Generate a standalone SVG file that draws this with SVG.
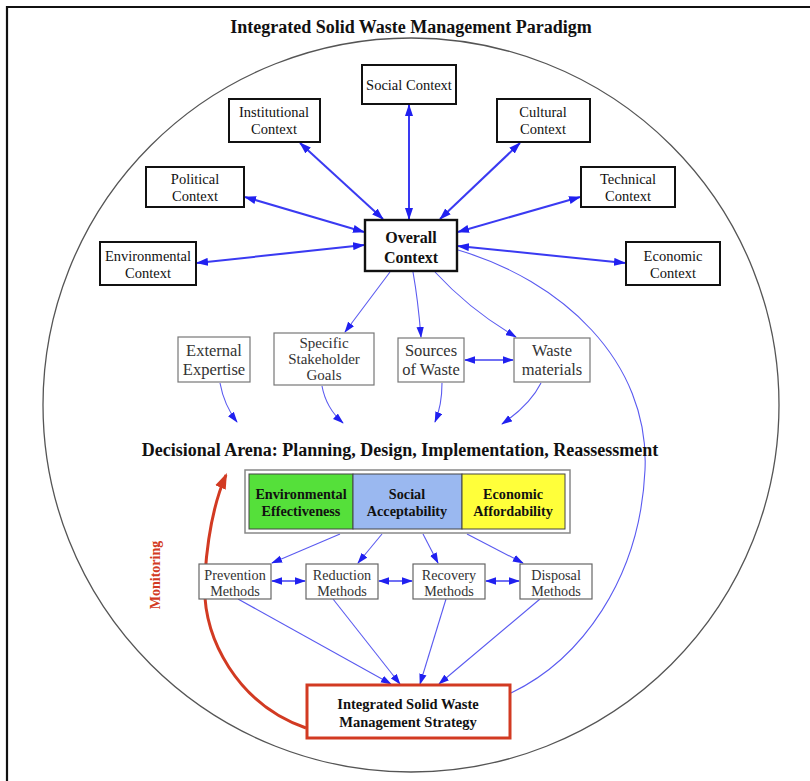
<svg xmlns="http://www.w3.org/2000/svg" width="810" height="781" viewBox="0 0 810 781">
<defs>
<style>
text{font-family:"Liberation Serif","Times New Roman",serif;fill:#111;text-anchor:middle}
.ctx rect{fill:#fff;stroke:#111;stroke-width:2}
.ctx text{font-size:14.5px}
.low rect{fill:#fff;stroke:#777;stroke-width:1.2}
.low text{font-size:16.5px;fill:#333}
.meth rect{fill:#fff;stroke:#666;stroke-width:1.2}
.meth text{font-size:14.2px;fill:#333}
.crit{font-weight:bold;font-size:14.2px}
.b{font-weight:bold}
.thick{stroke:#3a3af2;stroke-width:2;fill:none}
.thin{stroke:#5a5af0;stroke-width:1.1;fill:none}
.mid{stroke:#4040f0;stroke-width:1.4;fill:none}
</style>
<marker id="ah" viewBox="0 0 12 8" refX="11" refY="4" markerWidth="12" markerHeight="8" markerUnits="userSpaceOnUse" orient="auto-start-reverse">
<path d="M0,0 L12,4 L0,8 Z" fill="#2020f0"/>
</marker>
<marker id="ahs" viewBox="0 0 12 8" refX="11" refY="4" markerWidth="11" markerHeight="8" markerUnits="userSpaceOnUse" orient="auto-start-reverse">
<path d="M0,0 L12,4 L0,8 Z" fill="#2020f0"/>
</marker>
<marker id="ahr" viewBox="0 0 14 10" refX="12" refY="5" markerWidth="16" markerHeight="12" markerUnits="userSpaceOnUse" orient="auto">
<path d="M0,0 L14,5 L0,10 Z" fill="#d23a22"/>
</marker>
</defs>
<rect width="810" height="781" fill="#fff"/>
<path d="M7,781 L7,7 L810,7" fill="none" stroke="#111" stroke-width="2.2"/>
<ellipse cx="411" cy="405" rx="368" ry="367" fill="none" stroke="#555" stroke-width="1.3"/>
<text x="411" y="33" class="b" font-size="18">Integrated Solid Waste Management Paradigm</text>

<g id="connectors">
<line class="thick" x1="409" y1="105" x2="409" y2="219" marker-start="url(#ah)" marker-end="url(#ah)"/>
<line class="thick" x1="300" y1="143" x2="383" y2="219" marker-start="url(#ah)" marker-end="url(#ah)"/>
<line class="thick" x1="520" y1="143" x2="440" y2="219" marker-start="url(#ah)" marker-end="url(#ah)"/>
<line class="thick" x1="245" y1="197" x2="364" y2="232" marker-start="url(#ah)" marker-end="url(#ah)"/>
<line class="thick" x1="580" y1="197" x2="458" y2="232" marker-start="url(#ah)" marker-end="url(#ah)"/>
<line class="thick" x1="197" y1="263" x2="364" y2="245" marker-start="url(#ah)" marker-end="url(#ah)"/>
<line class="thick" x1="625" y1="263" x2="458" y2="246" marker-start="url(#ah)" marker-end="url(#ah)"/>
<path class="thin" d="M390,272 L345,332" marker-end="url(#ahs)"/>
<path class="thin" d="M413,272 Q418,300 421,337" marker-end="url(#ahs)"/>
<path class="thin" d="M435,272 Q470,310 516,337" marker-end="url(#ahs)"/>
<line class="mid" x1="465" y1="360" x2="513" y2="360" marker-start="url(#ahs)" marker-end="url(#ahs)"/>
<path class="thin" d="M220,383 Q224,405 237,422" marker-end="url(#ahs)"/>
<path class="thin" d="M322,386 Q326,408 343,423" marker-end="url(#ahs)"/>
<path class="thin" d="M442,383 Q442,405 435,422" marker-end="url(#ahs)"/>
<path class="thin" d="M541,383 Q530,405 502,424" marker-end="url(#ahs)"/>
<path class="thin" d="M458,250 C560,280 650,360 645,470 C640,580 580,660 511,693"/>
<path class="thin" d="M340,534 L272,563" marker-end="url(#ahs)"/>
<path class="thin" d="M382,534 L358,563" marker-end="url(#ahs)"/>
<path class="thin" d="M423,534 L438,563" marker-end="url(#ahs)"/>
<path class="thin" d="M467,534 L523,563" marker-end="url(#ahs)"/>
<line class="mid" x1="272" y1="581" x2="305" y2="581" marker-start="url(#ahs)" marker-end="url(#ahs)"/>
<line class="mid" x1="379" y1="581" x2="412" y2="581" marker-start="url(#ahs)" marker-end="url(#ahs)"/>
<line class="mid" x1="486" y1="581" x2="519" y2="581" marker-start="url(#ahs)" marker-end="url(#ahs)"/>
<path class="thin" d="M238,599 L391,684" marker-end="url(#ahs)"/>
<path class="thin" d="M333,599 L400,684" marker-end="url(#ahs)"/>
<path class="thin" d="M446,599 L420,684" marker-end="url(#ahs)"/>
<path class="thin" d="M540,599 L439,684" marker-end="url(#ahs)"/>
<path d="M306,728 C240,705 200,640 205,575 C208,530 215,500 226,475" fill="none" stroke="#d23a22" stroke-width="3" marker-end="url(#ahr)"/>
</g>

<g id="social" class="ctx"><rect x="362" y="65" width="94" height="39"/><text x="409" y="90">Social Context</text></g>
<g id="institutional" class="ctx"><rect x="229" y="99" width="91" height="43"/><text x="274" y="117">Institutional</text><text x="274" y="134">Context</text></g>
<g id="cultural" class="ctx"><rect x="497" y="99" width="93" height="43"/><text x="543" y="117">Cultural</text><text x="543" y="134">Context</text></g>
<g id="political" class="ctx"><rect x="146" y="167" width="98" height="40"/><text x="195" y="184">Political</text><text x="195" y="201">Context</text></g>
<g id="technical" class="ctx"><rect x="581" y="167" width="94" height="40"/><text x="628" y="184">Technical</text><text x="628" y="201">Context</text></g>
<g id="environmental" class="ctx"><rect x="100" y="242" width="96" height="43"/><text x="148" y="261">Environmental</text><text x="148" y="278">Context</text></g>
<g id="economic" class="ctx"><rect x="626" y="242" width="94" height="43"/><text x="673" y="261">Economic</text><text x="673" y="278">Context</text></g>
<g id="overall"><rect x="365" y="220" width="92" height="51" fill="#fff" stroke="#111" stroke-width="2.4"/><text x="411" y="243" class="b" font-size="16">Overall</text><text x="411" y="263" class="b" font-size="16">Context</text></g>

<g id="external" class="low"><rect x="178" y="337" width="72" height="45"/><text x="214" y="356">External</text><text x="214" y="375">Expertise</text></g>
<g id="stakeholder" class="low"><rect x="274" y="333" width="100" height="52"/><text x="324" y="348" style="font-size:15px">Specific</text><text x="324" y="364" style="font-size:15px">Stakeholder</text><text x="324" y="380" style="font-size:15px">Goals</text></g>
<g id="sources" class="low"><rect x="398" y="338" width="66" height="44"/><text x="431" y="356">Sources</text><text x="431" y="375">of Waste</text></g>
<g id="materials" class="low"><rect x="514" y="338" width="76" height="44"/><text x="552" y="356">Waste</text><text x="552" y="375">materials</text></g>

<text x="400" y="456" class="b" font-size="18">Decisional Arena: Planning, Design, Implementation, Reassessment</text>

<g id="criteria">
<rect x="245" y="470" width="325" height="63" fill="#fff" stroke="#888" stroke-width="1.5"/>
<rect x="249" y="474" width="104" height="55" fill="#55e03a" stroke="#444" stroke-width="1"/>
<rect x="353" y="474" width="109" height="55" fill="#9ab8f0" stroke="#444" stroke-width="1"/>
<rect x="462" y="474" width="103" height="55" fill="#ffff3a" stroke="#444" stroke-width="1"/>
<text x="301" y="499" class="crit">Environmental</text><text x="301" y="516" class="crit">Effectiveness</text>
<text x="407" y="499" class="crit">Social</text><text x="407" y="516" class="crit">Acceptability</text>
<text x="513" y="499" class="crit">Economic</text><text x="513" y="516" class="crit">Affordability</text>
</g>

<g id="prevention" class="meth"><rect x="199" y="564" width="72" height="35"/><text x="235" y="580">Prevention</text><text x="235" y="596">Methods</text></g>
<g id="reduction" class="meth"><rect x="306" y="564" width="72" height="35"/><text x="342" y="580">Reduction</text><text x="342" y="596">Methods</text></g>
<g id="recovery" class="meth"><rect x="413" y="564" width="72" height="35"/><text x="449" y="580">Recovery</text><text x="449" y="596">Methods</text></g>
<g id="disposal" class="meth"><rect x="520" y="564" width="72" height="35"/><text x="556" y="580">Disposal</text><text x="556" y="596">Methods</text></g>

<g id="strategy"><rect x="307" y="685" width="203" height="53" fill="#fff" stroke="#d23a22" stroke-width="3"/><text x="408" y="709" class="b" font-size="14.5">Integrated Solid Waste</text><text x="408" y="727" class="b" font-size="14.5">Management Strategy</text></g>

<text transform="translate(160,575) rotate(-90)" class="b" font-size="14" style="fill:#d23a22">Monitoring</text>
</svg>
